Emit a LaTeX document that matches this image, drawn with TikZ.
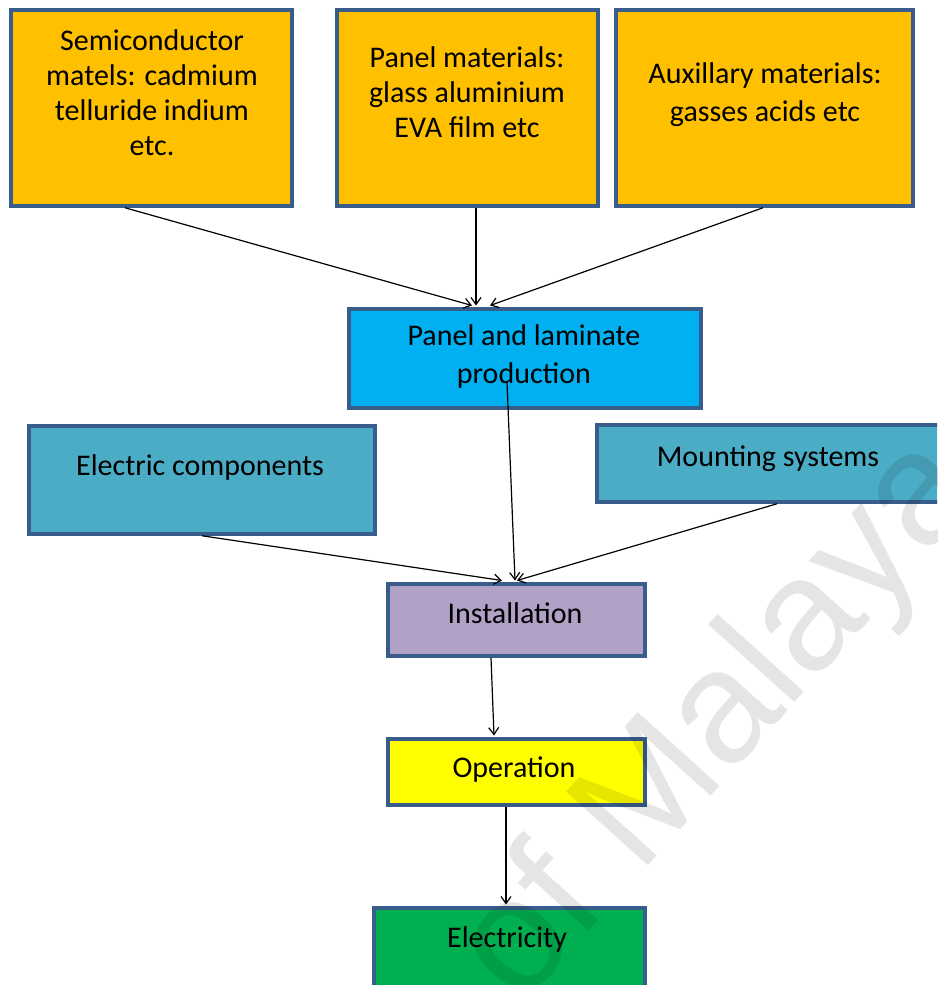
\documentclass[tikz,border=0pt]{standalone}
\usepackage{fontspec}
\setmainfont{Carlito}
\newfontfamily\wmfont{Liberation Sans}
\usetikzlibrary{arrows.meta}

\definecolor{boxedge}{HTML}{385D8A}
\definecolor{rawmat}{HTML}{FFC000}
\definecolor{prodfill}{HTML}{00B0F0}
\definecolor{partfill}{HTML}{4BACC6}
\definecolor{instfill}{HTML}{B2A1C7}
\definecolor{operfill}{HTML}{FFFF00}
\definecolor{elecfill}{HTML}{00B050}

\newcommand{\stack}[1]{\begin{tabular}[t]{@{}c@{}}#1\end{tabular}}

\begin{document}
\begin{tikzpicture}[x=1pt,y=-1pt,
  box/.style={draw=boxedge, line width=3.5pt, rectangle, inner sep=0pt},
  lbl/.style={anchor=base, inner sep=0pt, font=\fontsize{30}{#1}\selectfont},
  lbl/.default=35,
  flow/.style={draw=black, line width=1.2pt,
    -{Straight Barb[length=7pt,width=10pt,line width=1.2pt]}}]
\useasboundingbox (0,0) rectangle (937,985);
\clip (0,0) rectangle (937,985);

% material boxes
\node[box, fill=rawmat, minimum width=281pt, minimum height=196pt] (semi) at (151.5,108) {};
\node[box, fill=rawmat, minimum width=261pt, minimum height=196pt] (panelm) at (467.5,108) {};
\node[box, fill=rawmat, minimum width=297pt, minimum height=196pt] (aux) at (764.5,108) {};
% production
\node[box, fill=prodfill, minimum width=352pt, minimum height=99pt] (prod) at (525,358.5) {};
% parts
\node[box, fill=partfill, minimum width=346pt, minimum height=108pt] (elec) at (202,480) {};
\node[box, fill=partfill, minimum width=353pt, minimum height=77pt] (mount) at (773.5,463.5) {};
% downstream
\node[box, fill=instfill, minimum width=257pt, minimum height=72pt] (inst) at (516.5,620) {};
\node[box, fill=operfill, minimum width=257pt, minimum height=66pt] (oper) at (516.5,772) {};
\node[box, fill=elecfill, minimum width=271pt, minimum height=92pt] (elty) at (509.5,954) {};

% labels
\node[lbl] (semiT) at (152,50) {\stack{Semiconductor\\matels: cadmium\\telluride indium\\etc.}};
\node[lbl] (panelmT) at (467,67) {\stack{Panel materials:\\glass aluminium\\EVA film etc}};
\node[lbl=38] (auxT) at (765,83) {\stack{Auxillary materials:\\gasses acids etc}};
\node[lbl=38] (prodT) at (524,345) {\stack{Panel and laminate\\production}};
\node[lbl] (elecT) at (200,475) {Electric components};
\node[lbl] (mountT) at (768,466) {Mounting systems};
\node[lbl] (instT) at (515,623) {Installation};
\node[lbl] (operT) at (514,777) {Operation};
\node[lbl] (eltyT) at (507,947) {Electricity};

% connectors
\coordinate (prodout) at (507,382);
\draw[flow] ([xshift=-26.5pt]semi.south) -- ([xshift=-53pt,yshift=1.75pt]prod.north);
\draw[flow] ([xshift=8.5pt]panelm.south) -- ([xshift=-49pt,yshift=1.75pt]prod.north);
\draw[flow] ([xshift=-1.5pt]aux.south) -- ([xshift=-35pt,yshift=1.75pt]prod.north);
\draw[flow] (prodout) -- ([xshift=-1.5pt,yshift=1.75pt]inst.north);
\draw[flow] (elec.south) -- ([xshift=-14.5pt,yshift=1.75pt]inst.north);
\draw[flow] ([xshift=3.5pt]mount.south) -- ([xshift=0.5pt,yshift=1.75pt]inst.north);
\draw[flow] ([xshift=-25.5pt]inst.south) -- ([xshift=-22.5pt,yshift=1.75pt]oper.north);
\draw[flow] ([xshift=-10.5pt]oper.south) -- ([xshift=-3.5pt,yshift=1.75pt]elty.north);

% watermark
\node[rotate=48, anchor=base west, inner sep=0pt, text=black, opacity=0.1,
  font=\wmfont\fontsize{160}{160}\selectfont] (mark) at (520,1008) {of Malaya};
\end{tikzpicture}
\end{document}
